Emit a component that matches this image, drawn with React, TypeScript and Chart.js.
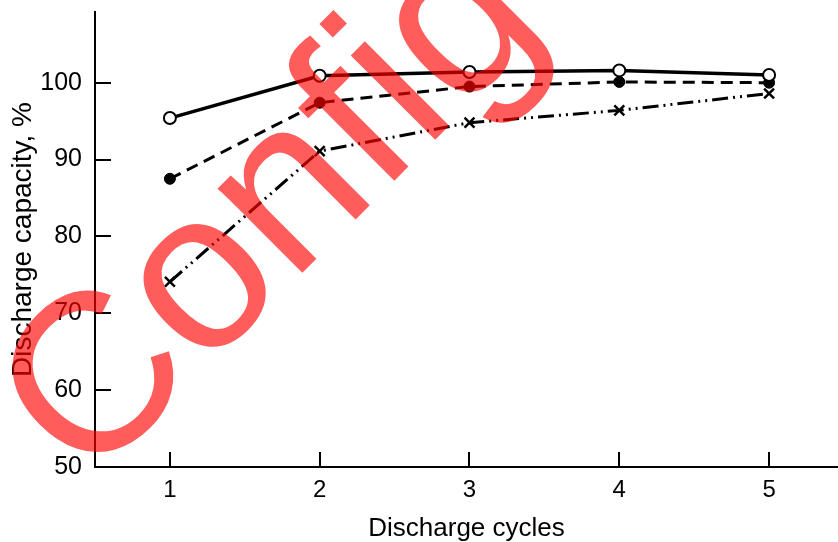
import React, { useEffect, useRef } from "react";
import { Chart, registerables } from "chart.js";

Chart.register(...registerables);

const CYCLES = [1, 2, 3, 4, 5];
const SERIES_OPEN = [95.4, 100.9, 101.4, 101.6, 101.0];
const SERIES_FILLED = [87.5, 97.4, 99.5, 100.1, 100.0];
const SERIES_CROSS = [74.1, 91.1, 94.8, 96.4, 98.6];
const X_TICKS = [1, 2, 3, 4, 5];
const Y_TICKS = [50, 60, 70, 80, 90, 100];
const X_TITLE = "Discharge cycles";
const Y_TITLE = "Discharge capacity, %";
const WATERMARK = "Config";

const FONT = "'Liberation Sans', Arial, Helvetica, sans-serif";

const innerTicks = {
  id: "innerTicks",
  afterDatasetsDraw(chart: any) {
    const { ctx, chartArea } = chart;
    const xs = chart.scales.x;
    const ys = chart.scales.y;
    ctx.save();
    ctx.strokeStyle = "#000";
    ctx.lineWidth = 2;
    ctx.beginPath();
    for (const v of Y_TICKS) {
      const py = Math.round(ys.getPixelForValue(v));
      ctx.moveTo(chartArea.left, py);
      ctx.lineTo(chartArea.left + 16, py);
    }
    for (const v of X_TICKS) {
      const px = Math.round(xs.getPixelForValue(v));
      ctx.moveTo(px, chartArea.bottom);
      ctx.lineTo(px, chartArea.bottom - 15);
    }
    ctx.stroke();
    ctx.restore();
  },
};

const watermark = {
  id: "watermark",
  afterDraw(chart: any) {
    const { ctx } = chart;
    ctx.save();
    ctx.translate(87, 488);
    ctx.rotate(-Math.PI / 4);
    ctx.font = `226px ${FONT}`;
    ctx.textAlign = "left";
    ctx.textBaseline = "alphabetic";
    ctx.fillStyle = "rgba(255,0,0,0.64)";
    ctx.fillText(WATERMARK, 0, 0);
    ctx.restore();
  },
};

const zeroPad = (scale: any) => {
  scale.paddingLeft = 0;
  scale.paddingRight = 0;
  scale.paddingTop = 0;
  scale.paddingBottom = 0;
};

export default function App() {
  const ref = useRef<HTMLCanvasElement | null>(null);

  useEffect(() => {
    if (!ref.current) return;
    const chart = new Chart(ref.current, {
      type: "line",
      data: {
        datasets: [
          {
            label: "open",
            data: CYCLES.map((c, i) => ({ x: c, y: SERIES_OPEN[i] })),
            borderColor: "#000",
            borderWidth: 3.5,
            tension: 0,
            pointStyle: "circle",
            pointRadius: 6,
            pointBorderWidth: 2,
            pointBackgroundColor: "#fff",
            pointBorderColor: "#000",
            order: 1,
          },
          {
            label: "filled",
            data: CYCLES.map((c, i) => ({ x: c, y: SERIES_FILLED[i] })),
            borderColor: "#000",
            borderWidth: 3,
            borderDash: [12, 7],
            tension: 0,
            pointStyle: "circle",
            pointRadius: 5.5,
            pointBorderWidth: 1,
            pointBackgroundColor: "#000",
            pointBorderColor: "#000",
            order: 2,
          },
          {
            label: "cross",
            data: CYCLES.map((c, i) => ({ x: c, y: SERIES_CROSS[i] })),
            borderColor: "#000",
            borderWidth: 3,
            borderDash: [16, 5, 2, 5, 2, 5],
            tension: 0,
            pointStyle: "crossRot",
            pointRadius: 7,
            pointBorderWidth: 2.5,
            pointBackgroundColor: "#000",
            pointBorderColor: "#000",
            order: 3,
          },
        ],
      },
      options: {
        animation: false,
        responsive: false,
        maintainAspectRatio: false,
        layout: { autoPadding: false, padding: { top: 12, right: 0, left: 0, bottom: 0 } },
        plugins: { legend: { display: false }, tooltip: { enabled: false } },
        scales: {
          x: {
            type: "linear",
            min: 0.5,
            max: 5.46,
            grid: { display: false, drawTicks: false },
            border: { display: true, color: "#000", width: 2 },
            ticks: {
              color: "#000",
              font: { family: FONT, size: 24 },
              padding: 9,
            },
            afterBuildTicks: (scale: any) => {
              scale.ticks = X_TICKS.map((v) => ({ value: v }));
            },
            afterFit: (scale: any) => {
              scale.height = 75;
              zeroPad(scale);
            },
            title: {
              display: true,
              text: X_TITLE,
              color: "#000",
              font: { family: FONT, size: 26 },
              padding: { top: 0, bottom: -2 },
            },
          },
          y: {
            type: "linear",
            min: 50,
            max: 109.2,
            grid: { display: false, drawTicks: false },
            border: { display: true, color: "#000", width: 2 },
            ticks: {
              color: "#000",
              font: { family: FONT, size: 25 },
              padding: 13,
            },
            afterBuildTicks: (scale: any) => {
              scale.ticks = Y_TICKS.map((v) => ({ value: v }));
            },
            afterFit: (scale: any) => {
              scale.width = 95;
              zeroPad(scale);
            },
            title: {
              display: true,
              text: Y_TITLE,
              color: "#000",
              font: { family: FONT, size: 28 },
              padding: { top: 6, bottom: 0 },
            },
          },
        },
      },
      plugins: [innerTicks, watermark],
    });
    return () => chart.destroy();
  }, []);

  return (
    <div style={{ position: "absolute", left: 0, top: 0, width: 838, height: 542, background: "#fff" }}>
      <canvas ref={ref} width={838} height={542} style={{ display: "block", width: 838, height: 542 }} />
    </div>
  );
}
